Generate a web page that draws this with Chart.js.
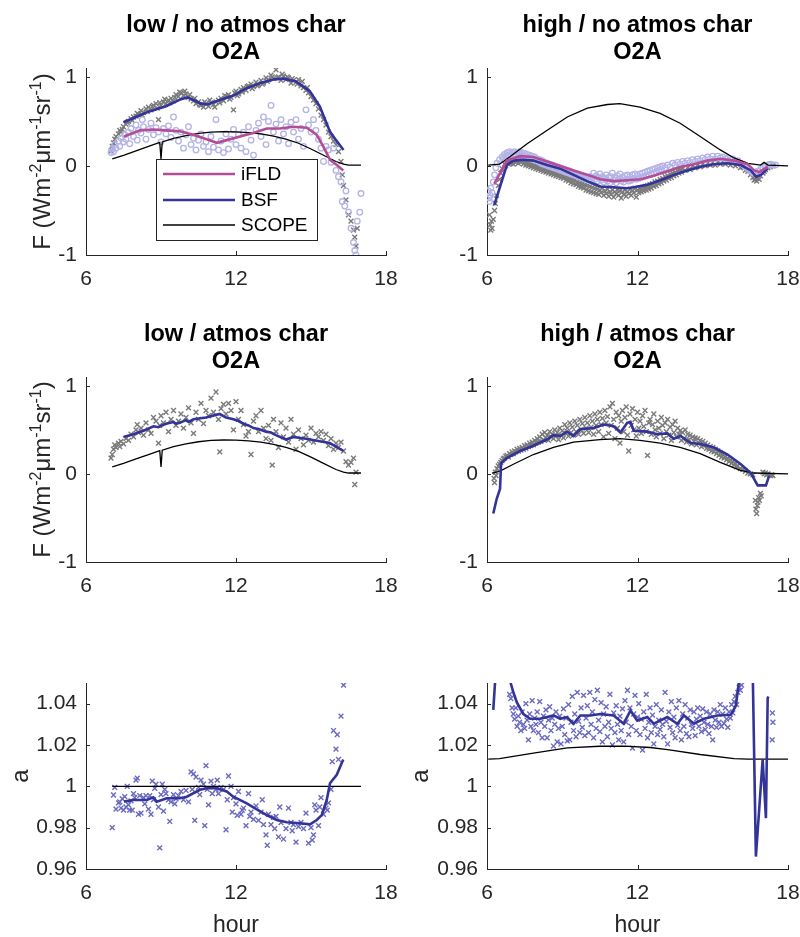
<!DOCTYPE html>
<html>
<head>
<meta charset="utf-8">
<title>O2A</title>
<script src="https://cdn.jsdelivr.net/npm/chart.js@4.4.0/dist/chart.umd.min.js"></script>
<style>
  body { margin: 0; background: #fff; }
  #fig { position: relative; width: 800px; height: 937px; }
  #fig canvas { position: absolute; }
</style>
</head>
<body>
<div id="fig"></div>
<script>
// ticks
const xTicks = [6, 12, 18];
const fTicks = [-1, 0, 1];
const aTicks = [0.96, 0.98, 1, 1.02, 1.04];

const titles = [
  ['low / no atmos char', 'O2A'],
  ['high / no atmos char', 'O2A'],
  ['low / atmos char', 'O2A'],
  ['high / atmos char', 'O2A']
];
const legendLabels = ['iFLD', 'BSF', 'SCOPE'];

// SCOPE model runs [hour, value]
const scopeLow = [[7.05,0.08],[7.5,0.12],[8.0,0.17],[8.5,0.22],[8.95,0.265],[9.0,0.08],[9.05,0.27],[9.5,0.31],[10.0,0.34],[10.5,0.365],[11.0,0.38],[11.5,0.385],[12.0,0.383],[12.5,0.375],[13.0,0.36],[13.5,0.335],[14.0,0.30],[14.5,0.255],[15.0,0.19],[15.5,0.12],[16.0,0.05],[16.3,0.02],[16.5,0.01],[17.0,0.01]];
const p2Scope = [[6.05,0.01],[6.5,0.02],[6.9,0.10],[7.6,0.25],[8.4,0.40],[9.2,0.55],[10.0,0.65],[10.8,0.69],[11.3,0.70],[12.1,0.66],[12.9,0.59],[13.7,0.48],[14.5,0.33],[15.3,0.18],[15.85,0.09],[16.4,0.03],[16.9,0.01],[17.05,0.04],[17.2,0.01],[18.0,0.0]];
const p4Scope = [[6.2,0.01],[6.5,0.03],[7.05,0.11],[7.85,0.22],[8.65,0.30],[9.45,0.36],[10.5,0.39],[11.3,0.40],[12.1,0.38],[12.9,0.35],[13.7,0.30],[14.5,0.23],[15.3,0.13],[16.1,0.04],[16.65,0.01],[18.0,0.0]];
const p5Scope = [[7.05,1.0],[17.0,1.0]];
const p6Scope = [[6.05,1.0132],[6.5,1.0134],[7.85,1.0161],[9.2,1.0186],[10.5,1.0194],[11.5,1.0195],[12.5,1.0188],[13.2,1.0178],[14.5,1.0154],[15.85,1.0134],[16.4,1.0132],[18.0,1.0132]];

// retrieval lines
const p1Bsf = [[7.5,0.49],[8.0,0.55],[8.5,0.61],[9.2,0.67],[9.8,0.75],[10.05,0.77],[10.3,0.74],[10.6,0.70],[10.85,0.69],[11.35,0.74],[11.9,0.79],[12.4,0.87],[12.95,0.93],[13.5,0.97],[13.9,0.98],[14.4,0.95],[14.95,0.84],[15.35,0.67],[15.75,0.39],[16.0,0.29],[16.3,0.18]];
const p1Ifld = [[7.52,0.33],[8.16,0.40],[8.69,0.41],[9.23,0.40],[9.76,0.39],[10.29,0.35],[10.83,0.30],[11.23,0.26],[11.63,0.29],[12.16,0.33],[12.69,0.37],[13.23,0.42],[13.76,0.42],[14.29,0.44],[14.83,0.43],[15.23,0.35],[15.49,0.22],[15.76,0.07],[16.03,0.01],[16.29,-0.05]];
const p2Bsf = [[6.29,-0.44],[6.79,0.01],[7.05,0.06],[7.45,0.07],[7.85,0.06],[8.39,0.01],[8.92,-0.03],[9.45,-0.10],[9.99,-0.17],[10.52,-0.23],[11.05,-0.24],[11.59,-0.25],[11.85,-0.24],[12.39,-0.21],[12.92,-0.16],[13.45,-0.10],[13.99,-0.05],[14.52,-0.01],[15.05,0.02],[15.59,0.03],[16.12,0.01],[16.52,-0.05],[16.72,-0.12],[16.92,-0.10],[17.19,-0.03]];
const p2Ifld = [[6.29,-0.20],[6.79,0.06],[7.32,0.11],[7.85,0.10],[8.39,0.05],[8.92,0.0],[9.45,-0.05],[9.99,-0.10],[10.52,-0.15],[11.05,-0.17],[11.59,-0.16],[12.12,-0.15],[12.65,-0.11],[13.19,-0.06],[13.72,-0.01],[14.25,0.02],[14.79,0.06],[15.32,0.08],[15.85,0.06],[16.39,0.02],[16.65,-0.05],[16.85,-0.07],[17.19,-0.01]];
const p3Bsf = [[7.5,0.42],[7.9,0.45],[8.3,0.49],[8.7,0.54],[8.9,0.53],[9.2,0.57],[9.5,0.59],[9.6,0.57],[9.75,0.58],[10.0,0.61],[10.1,0.59],[10.3,0.62],[10.8,0.64],[11.2,0.67],[11.35,0.68],[11.6,0.64],[11.9,0.62],[12.1,0.60],[12.3,0.57],[12.5,0.55],[12.7,0.52],[12.9,0.51],[13.2,0.48],[13.4,0.47],[13.6,0.44],[14.0,0.39],[14.3,0.42],[14.5,0.41],[14.8,0.40],[15.35,0.37],[15.75,0.35],[16.0,0.31],[16.3,0.26]];
const p4Bsf = [[6.25,-0.45],[6.39,-0.28],[6.52,-0.17],[6.56,0.12],[6.79,0.18],[7.32,0.26],[7.85,0.32],[8.39,0.39],[8.65,0.44],[8.92,0.43],[9.19,0.48],[9.45,0.43],[9.72,0.51],[10.25,0.52],[10.65,0.56],[11.05,0.54],[11.32,0.47],[11.59,0.58],[11.72,0.59],[11.85,0.49],[12.39,0.48],[12.79,0.45],[13.19,0.46],[13.45,0.40],[13.72,0.43],[14.12,0.35],[14.52,0.34],[15.05,0.30],[15.59,0.22],[16.12,0.11],[16.52,0.01],[16.79,-0.13],[17.12,-0.13],[17.25,-0.02]];
const p5Bsf = [[7.52,0.9926],[7.89,0.9934],[8.43,0.9934],[8.69,0.9947],[8.83,0.9926],[9.23,0.9942],[9.76,0.9942],[10.03,0.995],[10.56,0.9983],[10.83,0.9991],[11.23,0.9991],[11.63,0.9975],[11.89,0.995],[12.43,0.9918],[12.83,0.9889],[13.23,0.9861],[13.63,0.9837],[14.03,0.9826],[14.56,0.9821],[14.96,0.9816],[15.23,0.9837],[15.43,0.9861],[15.63,0.9934],[15.76,1.0015],[16.03,1.0056],[16.29,1.013]];
const p6Bsf = [[6.25,1.037],[6.33,1.052],[6.5,1.12],[6.8,1.12],[6.92,1.051],[7.05,1.0455],[7.19,1.0406],[7.45,1.035],[7.72,1.0327],[8.12,1.0327],[8.65,1.0343],[8.92,1.0327],[9.19,1.0335],[9.45,1.0303],[9.72,1.0343],[10.12,1.0343],[10.52,1.035],[11.05,1.0343],[11.45,1.0303],[11.72,1.0367],[11.99,1.0318],[12.39,1.0335],[12.65,1.0303],[13.19,1.0335],[13.59,1.0303],[13.85,1.0343],[14.25,1.0303],[14.65,1.0327],[15.19,1.0343],[15.72,1.0346],[15.92,1.039],[16.05,1.051],[16.2,1.12],[16.45,1.12],[16.6,1.051],[16.72,0.966],[16.99,1.013],[17.12,0.9846],[17.19,1.0427],[17.22,1.0435]];

// measurements
const p1Gray = [[7.0,0.17],[7.05,0.22],[7.1,0.26],[7.15,0.30],[7.2,0.33],[7.3,0.36],[7.35,0.40],[7.4,0.38],[7.45,0.41],[7.5,0.44],[7.6,0.47],[7.65,0.49],[7.7,0.50],[7.8,0.53],[7.85,0.51],[7.9,0.55],[8.0,0.56],[8.05,0.59],[8.1,0.58],[8.2,0.62],[8.25,0.57],[8.3,0.60],[8.4,0.64],[8.45,0.61],[8.5,0.66],[8.6,0.63],[8.65,0.67],[8.7,0.68],[8.8,0.70],[8.85,0.65],[8.9,0.52],[8.95,0.71],[9.0,0.68],[9.1,0.72],[9.15,0.75],[9.2,0.70],[9.3,0.74],[9.35,0.71],[9.4,0.76],[9.5,0.73],[9.55,0.77],[9.6,0.80],[9.7,0.78],[9.75,0.83],[9.8,0.82],[9.9,0.79],[9.95,0.84],[10.0,0.81],[10.1,0.77],[10.15,0.80],[10.2,0.75],[10.3,0.73],[10.35,0.76],[10.4,0.70],[10.5,0.72],[10.55,0.69],[10.6,0.68],[10.7,0.66],[10.75,0.72],[10.8,0.70],[10.9,0.67],[10.95,0.74],[11.0,0.71],[11.1,0.69],[11.15,0.66],[11.2,0.72],[11.3,0.74],[11.35,0.71],[11.4,0.76],[11.5,0.73],[11.55,0.79],[11.6,0.78],[11.7,0.80],[11.75,0.75],[11.8,0.77],[11.9,0.63],[11.95,0.82],[12.0,0.84],[12.05,0.79],[12.1,0.81],[12.2,0.86],[12.25,0.83],[12.3,0.88],[12.4,0.85],[12.45,0.89],[12.5,0.90],[12.6,0.92],[12.65,0.87],[12.7,0.89],[12.8,0.94],[12.85,0.90],[12.9,0.91],[13.0,0.96],[13.05,0.92],[13.1,0.93],[13.2,0.99],[13.25,0.95],[13.3,0.97],[13.4,1.02],[13.45,1.00],[13.5,0.98],[13.6,1.08],[13.65,0.99],[13.7,1.00],[13.8,0.96],[13.85,1.03],[13.9,1.01],[14.0,0.97],[14.05,1.00],[14.1,0.99],[14.2,0.93],[14.25,0.98],[14.3,0.96],[14.4,0.94],[14.45,0.92],[14.5,0.97],[14.6,0.90],[14.65,0.95],[14.7,0.88],[14.8,0.85],[14.85,0.88],[14.9,0.82],[15.0,0.78],[15.1,0.74],[15.2,0.70],[15.3,0.64],[15.4,0.57],[15.5,0.52],[15.6,0.46],[15.7,0.38],[15.8,0.33],[15.9,0.28],[16.0,0.24],[16.1,0.16],[16.2,0.05],[16.25,-0.10],[16.3,-0.22],[16.4,-0.38],[16.5,-0.55],[16.6,-0.62],[16.7,-0.72],[16.75,-0.80],[16.8,-0.90],[16.85,-0.70]];
const p1Circ = [[7.0,0.15],[7.05,0.19],[7.1,0.16],[7.15,0.24],[7.2,0.20],[7.3,0.28],[7.35,0.22],[7.4,0.31],[7.5,0.27],[7.55,0.35],[7.6,0.30],[7.7,0.38],[7.75,0.25],[7.8,0.42],[7.9,0.33],[8.0,0.46],[8.05,0.29],[8.1,0.40],[8.2,0.37],[8.25,0.52],[8.3,0.44],[8.4,0.30],[8.5,0.41],[8.6,0.48],[8.7,0.35],[8.8,0.43],[8.9,0.38],[9.0,0.27],[9.1,0.42],[9.2,0.36],[9.3,0.45],[9.4,0.32],[9.5,0.55],[9.6,0.40],[9.7,0.28],[9.8,0.38],[9.9,0.20],[10.0,0.35],[10.1,0.44],[10.2,0.24],[10.3,0.31],[10.4,0.18],[10.5,0.29],[10.6,0.36],[10.7,0.22],[10.8,0.27],[10.9,0.16],[11.0,0.33],[11.1,0.21],[11.2,0.52],[11.3,0.18],[11.4,0.28],[11.5,0.15],[11.6,0.36],[11.7,0.19],[11.8,0.30],[11.9,0.41],[12.0,0.24],[12.1,0.35],[12.2,0.20],[12.3,0.38],[12.4,0.16],[12.5,0.44],[12.6,0.29],[12.7,0.12],[12.8,0.40],[12.9,0.48],[13.0,0.33],[13.1,0.55],[13.2,0.24],[13.3,0.50],[13.4,0.68],[13.5,0.38],[13.6,0.47],[13.7,0.28],[13.8,0.52],[13.9,0.36],[14.0,0.44],[14.1,0.25],[14.2,0.49],[14.3,0.38],[14.4,0.52],[14.5,0.30],[14.6,0.42],[14.7,0.22],[14.8,0.63],[14.9,0.46],[15.0,0.38],[15.1,0.52],[15.2,0.40],[15.3,0.30],[15.4,0.20],[15.5,0.05],[15.6,0.22],[15.7,0.18],[15.8,0.04],[15.9,0.20],[16.0,-0.05],[16.1,-0.12],[16.2,-0.18],[16.25,-0.40],[16.35,-0.45],[16.4,-0.28],[16.5,-0.52],[16.6,-0.70],[16.7,-0.86],[16.75,-0.95],[16.8,-1.0],[16.85,-0.62],[16.95,-0.52],[17.0,-0.31]];
const p2Gray = [[6.1,-0.55],[6.12,-0.66],[6.15,-0.72],[6.18,-0.62],[6.2,-0.70],[6.25,-0.60],[6.3,-0.50],[6.33,-0.42],[6.38,-0.33],[6.45,-0.22],[6.5,-0.15],[6.55,-0.08],[6.6,-0.03],[6.7,0.02],[6.75,0.00],[6.8,0.04],[6.85,0.02],[6.9,0.06],[6.95,0.03],[7.0,0.05],[7.05,0.02],[7.1,0.07],[7.15,0.04],[7.2,0.06],[7.25,0.03],[7.3,0.07],[7.35,0.04],[7.4,0.06],[7.45,0.02],[7.5,0.05],[7.55,0.01],[7.6,0.04],[7.65,0.00],[7.7,0.03],[7.75,-0.01],[7.8,0.02],[7.85,-0.02],[7.9,0.01],[7.95,-0.03],[8.0,0.00],[8.05,-0.04],[8.1,-0.01],[8.15,-0.05],[8.2,-0.02],[8.25,-0.06],[8.3,-0.03],[8.35,-0.07],[8.4,-0.04],[8.45,-0.08],[8.5,-0.05],[8.55,-0.09],[8.6,-0.06],[8.65,-0.10],[8.7,-0.07],[8.75,-0.11],[8.8,-0.08],[8.85,-0.12],[8.9,-0.09],[8.95,-0.13],[9.0,-0.10],[9.05,-0.14],[9.1,-0.11],[9.15,-0.16],[9.2,-0.12],[9.25,-0.17],[9.3,-0.14],[9.35,-0.19],[9.4,-0.15],[9.45,-0.20],[9.5,-0.16],[9.55,-0.21],[9.6,-0.18],[9.65,-0.23],[9.7,-0.19],[9.75,-0.24],[9.8,-0.20],[9.85,-0.25],[9.9,-0.21],[9.95,-0.27],[10.0,-0.22],[10.05,-0.28],[10.1,-0.23],[10.15,-0.29],[10.2,-0.24],[10.25,-0.30],[10.3,-0.25],[10.35,-0.31],[10.4,-0.26],[10.45,-0.32],[10.5,-0.27],[10.55,-0.30],[10.6,-0.25],[10.65,-0.33],[10.7,-0.28],[10.75,-0.31],[10.8,-0.26],[10.85,-0.34],[10.9,-0.29],[10.95,-0.32],[11.0,-0.27],[11.05,-0.35],[11.1,-0.29],[11.15,-0.31],[11.2,-0.27],[11.25,-0.33],[11.3,-0.28],[11.35,-0.36],[11.4,-0.29],[11.45,-0.32],[11.5,-0.27],[11.55,-0.34],[11.6,-0.29],[11.65,-0.31],[11.7,-0.26],[11.75,-0.33],[11.8,-0.28],[11.85,-0.30],[11.9,-0.25],[11.95,-0.35],[12.0,-0.27],[12.05,-0.30],[12.1,-0.25],[12.15,-0.29],[12.2,-0.24],[12.25,-0.28],[12.3,-0.23],[12.35,-0.27],[12.4,-0.22],[12.45,-0.26],[12.5,-0.21],[12.55,-0.25],[12.6,-0.20],[12.65,-0.23],[12.7,-0.18],[12.75,-0.22],[12.8,-0.17],[12.85,-0.20],[12.9,-0.15],[12.95,-0.19],[13.0,-0.14],[13.05,-0.17],[13.1,-0.12],[13.15,-0.16],[13.2,-0.11],[13.25,-0.14],[13.3,-0.09],[13.35,-0.13],[13.4,-0.08],[13.45,-0.11],[13.5,-0.07],[13.55,-0.10],[13.6,-0.05],[13.65,-0.08],[13.7,-0.04],[13.75,-0.07],[13.8,-0.03],[13.9,-0.05],[14.0,-0.02],[14.1,-0.04],[14.2,0.00],[14.3,-0.02],[14.4,0.01],[14.5,-0.01],[14.6,0.02],[14.7,0.00],[14.8,0.03],[14.9,0.01],[15.0,0.04],[15.1,0.01],[15.2,0.04],[15.3,0.02],[15.4,0.05],[15.5,0.02],[15.6,0.04],[15.7,0.01],[15.8,0.03],[15.9,0.00],[16.0,0.02],[16.1,-0.02],[16.2,-0.01],[16.3,-0.05],[16.4,-0.06],[16.5,-0.10],[16.6,-0.13],[16.65,-0.16],[16.7,-0.15],[16.75,-0.17],[16.8,-0.14],[16.85,-0.15],[16.9,-0.11],[17.0,-0.08],[17.05,-0.06],[17.1,-0.04],[17.2,-0.02],[17.3,-0.01],[17.4,0.00]];
const p2Circ = [[6.05,-0.28],[6.08,-0.36],[6.1,-0.40],[6.13,-0.33],[6.15,-0.25],[6.2,-0.30],[6.25,-0.18],[6.3,-0.10],[6.35,-0.02],[6.4,0.03],[6.5,0.07],[6.6,0.10],[6.65,0.08],[6.7,0.13],[6.75,0.11],[6.8,0.15],[6.85,0.12],[6.9,0.16],[6.95,0.13],[7.0,0.15],[7.05,0.12],[7.1,0.16],[7.15,0.13],[7.2,0.15],[7.25,0.12],[7.3,0.16],[7.35,0.13],[7.4,0.15],[7.45,0.11],[7.5,0.14],[7.55,0.10],[7.6,0.13],[7.65,0.10],[7.7,0.12],[7.75,0.08],[7.8,0.11],[7.85,0.07],[7.9,0.10],[7.95,0.06],[8.0,0.08],[8.05,0.05],[8.1,0.07],[8.15,0.03],[8.2,0.06],[8.25,0.02],[8.3,0.04],[8.35,0.01],[8.4,0.03],[8.45,0.00],[8.5,0.02],[8.55,-0.01],[8.6,0.01],[8.65,-0.02],[8.7,0.00],[8.75,-0.03],[8.8,-0.01],[8.85,-0.04],[8.9,-0.02],[8.95,-0.05],[9.0,-0.03],[9.05,-0.06],[9.1,-0.04],[9.15,-0.07],[9.2,-0.05],[9.25,-0.08],[9.3,-0.06],[9.35,-0.09],[9.4,-0.07],[9.45,-0.10],[9.5,-0.08],[9.55,-0.11],[9.6,-0.09],[9.65,-0.12],[9.7,-0.10],[9.75,-0.13],[9.8,-0.11],[9.85,-0.14],[9.9,-0.12],[9.95,-0.15],[10.0,-0.13],[10.05,-0.16],[10.1,-0.12],[10.15,-0.17],[10.2,-0.13],[10.25,-0.08],[10.3,-0.15],[10.35,-0.11],[10.4,-0.17],[10.45,-0.13],[10.5,-0.09],[10.55,-0.16],[10.6,-0.12],[10.65,-0.18],[10.7,-0.14],[10.75,-0.10],[10.8,-0.17],[10.85,-0.13],[10.9,-0.19],[10.95,-0.12],[11.0,-0.08],[11.05,-0.16],[11.1,-0.13],[11.15,-0.19],[11.2,-0.11],[11.25,-0.15],[11.3,-0.09],[11.35,-0.17],[11.4,-0.13],[11.45,-0.18],[11.5,-0.11],[11.55,-0.15],[11.6,-0.10],[11.65,-0.17],[11.7,-0.12],[11.75,-0.16],[11.8,-0.10],[11.85,-0.14],[11.9,-0.09],[11.95,-0.15],[12.0,-0.11],[12.05,-0.14],[12.1,-0.09],[12.15,-0.13],[12.2,-0.08],[12.25,-0.12],[12.3,-0.07],[12.35,-0.11],[12.4,-0.06],[12.45,-0.10],[12.5,-0.05],[12.55,-0.09],[12.6,-0.04],[12.65,-0.08],[12.7,-0.03],[12.75,-0.07],[12.8,-0.02],[12.85,-0.05],[12.9,-0.01],[12.95,-0.04],[13.0,0.00],[13.1,-0.02],[13.2,0.01],[13.3,-0.01],[13.4,0.03],[13.5,0.01],[13.6,0.04],[13.7,0.02],[13.8,0.05],[13.9,0.03],[14.0,0.06],[14.1,0.04],[14.2,0.07],[14.3,0.05],[14.4,0.08],[14.5,0.06],[14.6,0.09],[14.7,0.07],[14.8,0.10],[14.9,0.08],[15.0,0.11],[15.1,0.08],[15.2,0.11],[15.3,0.09],[15.4,0.10],[15.5,0.08],[15.6,0.09],[15.7,0.07],[15.8,0.08],[15.9,0.05],[16.0,0.06],[16.1,0.03],[16.2,0.02],[16.3,-0.01],[16.4,-0.03],[16.5,-0.06],[16.6,-0.08],[16.7,-0.07],[16.8,-0.06],[16.9,-0.04],[17.0,-0.02],[17.1,0.00],[17.2,0.01],[17.3,0.02],[17.4,0.01],[17.5,0.01]];
const p3Gray = [[7.0,0.18],[7.05,0.22],[7.1,0.28],[7.15,0.33],[7.2,0.30],[7.3,0.35],[7.35,0.31],[7.4,0.37],[7.5,0.34],[7.6,0.40],[7.7,0.38],[7.8,0.45],[7.9,0.42],[8.0,0.50],[8.05,0.56],[8.1,0.47],[8.2,0.52],[8.3,0.44],[8.4,0.58],[8.5,0.50],[8.6,0.46],[8.7,0.64],[8.8,0.60],[8.9,0.35],[8.95,0.55],[9.0,0.66],[9.1,0.58],[9.2,0.70],[9.3,0.48],[9.4,0.62],[9.5,0.72],[9.6,0.55],[9.7,0.60],[9.8,0.68],[9.9,0.52],[10.0,0.64],[10.1,0.75],[10.2,0.58],[10.3,0.46],[10.4,0.70],[10.5,0.62],[10.6,0.80],[10.7,0.57],[10.8,0.72],[10.9,0.66],[11.0,0.86],[11.1,0.70],[11.2,0.93],[11.3,0.62],[11.35,0.25],[11.4,0.74],[11.5,0.79],[11.6,0.68],[11.7,0.80],[11.8,0.72],[11.9,0.50],[12.0,0.82],[12.1,0.62],[12.2,0.72],[12.3,0.56],[12.4,0.43],[12.5,0.48],[12.6,0.22],[12.7,0.60],[12.8,0.66],[12.9,0.48],[13.0,0.72],[13.1,0.52],[13.2,0.40],[13.3,0.55],[13.4,0.38],[13.45,0.10],[13.5,0.62],[13.6,0.48],[13.7,0.30],[13.8,0.58],[13.9,0.42],[14.0,0.52],[14.1,0.36],[14.2,0.62],[14.3,0.45],[14.4,0.28],[14.5,0.50],[14.6,0.40],[14.7,0.33],[14.8,0.44],[14.9,0.38],[15.0,0.52],[15.1,0.36],[15.2,0.46],[15.3,0.42],[15.4,0.48],[15.5,0.38],[15.6,0.45],[15.7,0.32],[15.8,0.40],[15.9,0.28],[16.0,0.35],[16.1,0.30],[16.2,0.36],[16.3,0.26],[16.4,0.14],[16.5,0.10],[16.6,0.13],[16.7,0.18],[16.75,-0.12],[16.8,0.02]];
const p4Gray = [[6.28,-0.05],[6.3,-0.10],[6.33,0.02],[6.36,-0.02],[6.4,0.06],[6.45,0.09],[6.5,0.11],[6.55,0.13],[6.6,0.15],[6.65,0.17],[6.7,0.18],[6.75,0.20],[6.8,0.21],[6.85,0.19],[6.9,0.23],[6.95,0.22],[7.0,0.25],[7.05,0.23],[7.1,0.26],[7.15,0.25],[7.2,0.28],[7.25,0.26],[7.3,0.29],[7.35,0.27],[7.4,0.30],[7.45,0.28],[7.5,0.32],[7.55,0.29],[7.6,0.33],[7.65,0.31],[7.7,0.35],[7.75,0.32],[7.8,0.36],[7.85,0.33],[7.9,0.38],[7.95,0.35],[8.0,0.40],[8.05,0.36],[8.1,0.42],[8.15,0.37],[8.2,0.45],[8.25,0.39],[8.3,0.47],[8.35,0.41],[8.4,0.44],[8.45,0.38],[8.5,0.48],[8.55,0.42],[8.6,0.45],[8.65,0.40],[8.7,0.50],[8.75,0.43],[8.8,0.47],[8.85,0.39],[8.9,0.52],[8.95,0.44],[9.0,0.49],[9.05,0.41],[9.1,0.56],[9.15,0.46],[9.2,0.52],[9.25,0.43],[9.3,0.58],[9.35,0.47],[9.4,0.53],[9.45,0.44],[9.5,0.60],[9.55,0.48],[9.6,0.55],[9.65,0.45],[9.7,0.62],[9.75,0.50],[9.8,0.57],[9.85,0.46],[9.9,0.64],[9.95,0.52],[10.0,0.58],[10.05,0.47],[10.1,0.66],[10.15,0.53],[10.2,0.60],[10.25,0.45],[10.3,0.68],[10.35,0.55],[10.4,0.62],[10.45,0.48],[10.5,0.70],[10.55,0.56],[10.6,0.63],[10.65,0.42],[10.7,0.72],[10.75,0.58],[10.8,0.65],[10.85,0.46],[10.9,0.76],[10.95,0.55],[11.0,0.80],[11.05,0.62],[11.1,0.40],[11.15,0.70],[11.2,0.52],[11.25,0.66],[11.3,0.35],[11.35,0.60],[11.4,0.72],[11.45,0.48],[11.5,0.64],[11.55,0.76],[11.6,0.44],[11.65,0.26],[11.7,0.68],[11.75,0.55],[11.8,0.74],[11.85,0.50],[11.9,0.62],[11.95,0.43],[12.0,0.70],[12.05,0.52],[12.1,0.60],[12.15,0.46],[12.2,0.66],[12.25,0.54],[12.3,0.72],[12.35,0.48],[12.4,0.21],[12.45,0.58],[12.5,0.62],[12.55,0.45],[12.6,0.56],[12.65,0.68],[12.7,0.50],[12.75,0.42],[12.8,0.60],[12.85,0.52],[12.9,0.46],[12.95,0.64],[13.0,0.55],[13.05,0.40],[13.1,0.58],[13.15,0.48],[13.2,0.62],[13.25,0.44],[13.3,0.53],[13.35,0.38],[13.4,0.56],[13.45,0.47],[13.5,0.60],[13.55,0.42],[13.6,0.52],[13.65,0.45],[13.7,0.49],[13.75,0.38],[13.8,0.47],[13.85,0.40],[13.9,0.50],[13.95,0.36],[14.0,0.45],[14.05,0.39],[14.1,0.44],[14.15,0.34],[14.2,0.42],[14.25,0.37],[14.3,0.41],[14.35,0.33],[14.4,0.40],[14.45,0.35],[14.5,0.38],[14.55,0.31],[14.6,0.37],[14.65,0.32],[14.7,0.35],[14.75,0.29],[14.8,0.33],[14.85,0.28],[14.9,0.31],[14.95,0.26],[15.0,0.30],[15.05,0.25],[15.1,0.28],[15.15,0.23],[15.2,0.26],[15.25,0.21],[15.3,0.24],[15.35,0.19],[15.4,0.22],[15.45,0.18],[15.5,0.20],[15.55,0.16],[15.6,0.18],[15.65,0.14],[15.7,0.16],[15.75,0.12],[15.8,0.14],[15.85,0.10],[15.9,0.12],[15.95,0.08],[16.0,0.09],[16.1,0.06],[16.2,0.05],[16.3,0.03],[16.4,0.01],[16.5,0.00],[16.6,-0.01],[16.7,-0.30],[16.72,-0.40],[16.75,-0.45],[16.78,-0.36],[16.8,-0.32],[16.83,-0.27],[16.86,-0.30],[16.9,-0.22],[16.93,-0.25],[17.0,0.02],[17.05,0.00],[17.1,0.01],[17.15,-0.01],[17.2,0.00],[17.3,-0.02],[17.35,-0.01],[17.4,-0.02]];
const p5Pts = [[7.05,0.980],[7.1,0.9958],[7.15,0.9995],[7.2,0.989],[7.3,0.992],[7.35,0.9925],[7.4,0.9895],[7.45,0.994],[7.5,0.9885],[7.55,0.995],[7.6,0.990],[7.65,1.0],[7.7,0.991],[7.75,0.9885],[7.8,0.993],[7.85,0.9885],[7.9,0.9965],[7.95,0.9945],[8.0,1.003],[8.05,1.004],[8.1,0.9865],[8.15,0.9955],[8.2,0.987],[8.3,0.9945],[8.35,0.9915],[8.4,0.9955],[8.5,0.989],[8.55,0.9955],[8.6,0.9865],[8.65,1.0025],[8.7,0.9935],[8.75,0.999],[8.8,1.001],[8.9,0.990],[8.95,0.9702],[9.0,0.996],[9.05,1.001],[9.1,0.988],[9.15,0.9985],[9.2,0.9965],[9.3,0.9935],[9.35,0.983],[9.4,0.9925],[9.5,0.996],[9.55,0.9915],[9.6,0.994],[9.7,0.9955],[9.8,0.9975],[9.9,0.9935],[10.0,0.998],[10.1,0.9925],[10.2,1.007],[10.25,0.9985],[10.3,1.006],[10.35,0.9835],[10.4,1.0045],[10.5,0.9995],[10.55,0.996],[10.6,1.003],[10.7,1.001],[10.75,0.981],[10.8,1.010],[10.85,0.9985],[10.9,0.991],[11.0,1.0025],[11.05,0.9965],[11.1,1.0],[11.2,0.9985],[11.25,1.003],[11.3,0.9965],[11.4,0.9995],[11.5,0.9985],[11.6,0.979],[11.65,0.9935],[11.7,1.005],[11.8,1.0],[11.85,0.9875],[11.9,0.9945],[12.0,0.9915],[12.05,0.986],[12.1,0.9975],[12.2,0.9865],[12.25,0.9885],[12.3,0.9895],[12.4,0.981],[12.5,0.9965],[12.55,0.9855],[12.6,0.9875],[12.7,0.984],[12.8,0.9905],[12.9,0.9835],[13.0,0.9875],[13.05,0.9935],[13.1,0.9815],[13.2,0.9765],[13.25,0.9715],[13.3,0.9865],[13.4,0.9815],[13.5,0.985],[13.55,0.9795],[13.6,0.9855],[13.7,0.9755],[13.75,0.99],[13.8,0.9825],[13.9,0.9745],[14.0,0.9795],[14.1,0.9895],[14.2,0.9825],[14.25,0.9785],[14.3,0.9815],[14.4,0.973],[14.5,0.9805],[14.6,0.9825],[14.7,0.9795],[14.8,0.987],[14.9,0.9725],[15.0,0.980],[15.05,0.974],[15.1,0.9765],[15.15,0.991],[15.2,0.9885],[15.3,0.981],[15.35,0.990],[15.4,0.9945],[15.5,0.9865],[15.6,0.9895],[15.65,0.9885],[15.7,0.992],[15.8,0.9985],[15.85,1.012],[15.9,1.027],[16.0,1.018],[16.05,1.025],[16.1,1.013],[16.2,1.034],[16.3,1.049]];
const p6Pts = [[6.9,1.0445],[6.95,1.0425],[7.0,1.038],[7.05,1.035],[7.1,1.0325],[7.15,1.038],[7.2,1.029],[7.25,1.034],[7.3,1.031],[7.35,1.027],[7.4,1.036],[7.45,1.030],[7.5,1.028],[7.55,1.040],[7.6,1.032],[7.65,1.0225],[7.7,1.035],[7.75,1.029],[7.8,1.0415],[7.85,1.027],[7.9,1.033],[7.95,1.030],[8.0,1.036],[8.05,1.026],[8.1,1.041],[8.15,1.031],[8.2,1.0235],[8.25,1.034],[8.3,1.029],[8.35,1.037],[8.4,1.0235],[8.45,1.032],[8.5,1.0385],[8.55,1.027],[8.6,1.033],[8.65,1.0195],[8.7,1.030],[8.75,1.036],[8.8,1.0215],[8.85,1.028],[8.9,1.034],[8.95,1.0205],[9.0,1.029],[9.05,1.0375],[9.1,1.025],[9.15,1.033],[9.2,1.022],[9.25,1.0395],[9.3,1.0225],[9.35,1.031],[9.4,1.0435],[9.45,1.027],[9.5,1.035],[9.55,1.024],[9.6,1.0455],[9.65,1.0315],[9.7,1.026],[9.75,1.038],[9.8,1.0285],[9.85,1.044],[9.9,1.0245],[9.95,1.033],[10.0,1.039],[10.05,1.026],[10.1,1.0455],[10.15,1.030],[10.2,1.036],[10.25,1.0235],[10.3,1.042],[10.35,1.028],[10.4,1.0465],[10.45,1.032],[10.5,1.0265],[10.55,1.0405],[10.6,1.0215],[10.65,1.035],[10.7,1.029],[10.75,1.0385],[10.8,1.024],[10.85,1.031],[10.9,1.0445],[10.95,1.028],[11.0,1.020],[11.05,1.0355],[11.1,1.026],[11.15,1.039],[11.2,1.030],[11.25,1.0225],[11.3,1.034],[11.35,1.027],[11.4,1.0375],[11.45,1.0215],[11.5,1.0415],[11.55,1.031],[11.6,1.0465],[11.65,1.025],[11.7,1.038],[11.75,1.029],[11.8,1.0185],[11.85,1.035],[11.9,1.044],[11.95,1.027],[12.0,1.0335],[12.05,1.040],[12.1,1.025],[12.15,1.0325],[12.2,1.0175],[12.25,1.036],[12.3,1.028],[12.35,1.0445],[12.4,1.0235],[12.45,1.031],[12.5,1.038],[12.55,1.026],[12.6,1.0345],[12.65,1.0205],[12.7,1.029],[12.75,1.0395],[12.8,1.025],[12.85,1.032],[12.9,1.0275],[12.95,1.037],[13.0,1.030],[13.05,1.024],[13.1,1.0455],[13.15,1.0315],[13.2,1.0205],[13.25,1.036],[13.3,1.0285],[13.35,1.041],[13.4,1.026],[13.45,1.0335],[13.5,1.0235],[13.55,1.038],[13.6,1.0295],[13.65,1.0415],[13.7,1.027],[13.75,1.0225],[13.8,1.035],[13.85,1.029],[13.9,1.0395],[13.95,1.0255],[14.0,1.033],[14.05,1.024],[14.1,1.037],[14.15,1.030],[14.2,1.028],[14.25,1.036],[14.3,1.0245],[14.35,1.0325],[14.4,1.038],[14.45,1.029],[14.5,1.034],[14.55,1.0265],[14.6,1.0375],[14.65,1.031],[14.7,1.0275],[14.75,1.036],[14.8,1.030],[14.85,1.0255],[14.9,1.035],[14.95,1.029],[15.0,1.0225],[15.05,1.037],[15.1,1.032],[15.15,1.0285],[15.2,1.036],[15.25,1.031],[15.3,1.0395],[15.35,1.029],[15.4,1.035],[15.45,1.0305],[15.5,1.038],[15.55,1.0325],[15.6,1.0285],[15.65,1.036],[15.7,1.033],[15.75,1.0395],[15.8,1.0355],[15.85,1.041],[15.9,1.0435],[15.95,1.0395],[16.0,1.0455],[16.05,1.048],[16.1,1.0465],[16.15,1.049],[17.38,1.0355],[17.4,1.031],[17.37,1.0225]];

const FONT = '"Liberation Sans", Arial, Helvetica, sans-serif';
const AXIS = '#262626';
const C_IFLD = '#b34d99';
const C_BSF = '#333399';
const C_CIRC = '#b3b3e6';
const C_GRAY = '#7a7a7a';
const C_A = '#6a6abf';

// y label pieces: [text, superscript?]
const fLabel = [['F (Wm'], ['-2', 1], ['\u03bcm'], ['-1', 1], ['sr'], ['-1', 1], [')']];
const aLabel = [['a']];

const pts = arr => arr.map(([x, y]) => ({ x, y }));

function line(arr, color, w) {
  return { data: pts(arr), showLine: true, borderColor: color, borderWidth: w, pointRadius: 0, tension: 0, fill: false, clip: 0 };
}
function cross(arr, color) {
  return { data: pts(arr), showLine: false, pointStyle: 'crossRot', pointRadius: 3.4, borderColor: color, borderWidth: 1.4 };
}
function circ(arr, color) {
  return { data: pts(arr), showLine: false, pointStyle: 'circle', pointRadius: 2.8, borderColor: color, backgroundColor: 'rgba(0,0,0,0)', borderWidth: 1.3 };
}

// area = [left, top, right, bottom] of the axes box inside each canvas
const panels = [
  { left: 0, top: 0, h: 300, area: [86, 68, 386, 255], title: titles[0], kind: 'F', ylab: fLabel, ylabX: 50, legend: true,
    sets: [line(p1Ifld, C_IFLD, 2.6), line(p1Bsf, C_BSF, 2.6), line(scopeLow, '#000', 1.3), circ(p1Circ, C_CIRC), cross(p1Gray, C_GRAY)] },
  { left: 400, top: 0, h: 300, area: [87, 68, 388, 255], title: titles[1], kind: 'F',
    sets: [line(p2Ifld, C_IFLD, 2.6), line(p2Bsf, C_BSF, 2.6), line(p2Scope, '#000', 1.3), circ(p2Circ, C_CIRC), cross(p2Gray, C_GRAY)] },
  { left: 0, top: 300, h: 300, area: [86, 77, 386, 262], title: titles[2], kind: 'F', ylab: fLabel, ylabX: 50,
    sets: [line(p3Bsf, C_BSF, 2.6), line(scopeLow, '#000', 1.3), cross(p3Gray, C_GRAY)] },
  { left: 400, top: 300, h: 300, area: [87, 77, 388, 262], title: titles[3], kind: 'F',
    sets: [line(p4Bsf, C_BSF, 2.6), line(p4Scope, '#000', 1.3), cross(p4Gray, C_GRAY)] },
  { left: 0, top: 620, h: 317, area: [86, 63, 386, 249], kind: 'a', ylab: aLabel, ylabX: 28, hour: true,
    sets: [line(p5Bsf, C_BSF, 2.6), line(p5Scope, '#000', 1.3), cross(p5Pts, C_A)] },
  { left: 400, top: 620, h: 317, area: [87, 63, 388, 249], kind: 'a', ylab: aLabel, ylabX: 28, hour: true,
    sets: [line(p6Bsf, C_BSF, 2.6), line(p6Scope, '#000', 1.3), cross(p6Pts, C_A)] }
];

// MATLAB look: inward ticks, bold two-line title, TeX-like y label, legend box
function makeDecor(p) {
  return {
    id: 'decor',
    afterDraw(chart) {
      const ctx = chart.ctx;
      const a = chart.chartArea;
      const xs = chart.scales.x, ys = chart.scales.y;
      ctx.save();
      ctx.strokeStyle = AXIS;
      ctx.lineWidth = 1;
      ctx.beginPath();
      xs.ticks.forEach(t => {
        const px = Math.round(xs.getPixelForValue(t.value)) + 0.5;
        ctx.moveTo(px, a.bottom); ctx.lineTo(px, a.bottom - 4);
      });
      ys.ticks.forEach(t => {
        const py = Math.round(ys.getPixelForValue(t.value)) + 0.5;
        ctx.moveTo(a.left, py); ctx.lineTo(a.left + 4, py);
      });
      ctx.stroke();

      if (p.title) {
        ctx.fillStyle = '#000';
        ctx.font = 'bold 23.5px ' + FONT;
        ctx.textAlign = 'center';
        ctx.textBaseline = 'alphabetic';
        const cx = (a.left + a.right) / 2;
        ctx.fillText(p.title[0], cx, a.top - 36);
        ctx.fillText(p.title[1], cx, a.top - 9);
      }

      if (p.ylab) {
        const main = '24px ' + FONT, sup = '16px ' + FONT;
        ctx.save();
        ctx.translate(p.ylabX, (a.top + a.bottom) / 2);
        ctx.rotate(-Math.PI / 2);
        ctx.fillStyle = AXIS;
        ctx.textAlign = 'left';
        ctx.textBaseline = 'alphabetic';
        let total = 0;
        const widths = p.ylab.map(([t, s]) => {
          ctx.font = s ? sup : main;
          const w = ctx.measureText(t).width;
          total += w;
          return w;
        });
        let x = -total / 2;
        p.ylab.forEach(([t, s], i) => {
          ctx.font = s ? sup : main;
          ctx.fillText(t, x, s ? -9 : 0);
          x += widths[i];
        });
        ctx.restore();
      }

      if (p.legend) {
        const colors = [C_IFLD, C_BSF, '#000'];
        const lw = [2.6, 2.6, 1.3];
        const rows = [174, 200, 225];
        ctx.fillStyle = '#fff';
        ctx.fillRect(156, 159, 161, 81);
        ctx.strokeStyle = AXIS;
        ctx.lineWidth = 1;
        ctx.strokeRect(156.5, 159.5, 161, 81);
        ctx.font = '19px ' + FONT;
        ctx.textAlign = 'left';
        ctx.textBaseline = 'middle';
        legendLabels.forEach((lab, i) => {
          ctx.strokeStyle = colors[i];
          ctx.lineWidth = lw[i];
          ctx.beginPath();
          ctx.moveTo(163, rows[i]); ctx.lineTo(235, rows[i]);
          ctx.stroke();
          ctx.fillStyle = '#000';
          ctx.fillText(lab, 241, rows[i] + 1);
        });
      }
      ctx.restore();
    }
  };
}

function drawPanel(p) {
  const canvas = document.createElement('canvas');
  canvas.width = 400;
  canvas.height = p.h;
  canvas.style.left = p.left + 'px';
  canvas.style.top = p.top + 'px';
  document.getElementById('fig').appendChild(canvas);

  const [aL, aT, aR, aB] = p.area;
  const isA = p.kind === 'a';
  const tickFont = { family: FONT, size: 21 };

  new Chart(canvas.getContext('2d'), {
    type: 'scatter',
    data: { datasets: p.sets },
    plugins: [makeDecor(p)],
    options: {
      responsive: false,
      animation: false,
      devicePixelRatio: 1,
      events: [],
      layout: { padding: { left: 0, top: aT, right: 400 - aR, bottom: 0 } },
      plugins: { legend: { display: false }, tooltip: { enabled: false } },
      scales: {
        x: {
          type: 'linear',
          position: 'bottom',
          min: 6,
          max: 18,
          afterBuildTicks: s => { s.ticks = xTicks.map(v => ({ value: v })); },
          afterFit: s => { s.height = p.h - aB; s.paddingLeft = 0; s.paddingRight = 0; },
          grid: { display: false, drawTicks: false },
          border: { display: true, color: AXIS, width: 1 },
          ticks: { padding: 12, color: AXIS, font: tickFont, maxRotation: 0, autoSkip: false, callback: v => String(v) },
          title: p.hour
            ? { display: true, text: 'hour', color: AXIS, font: { family: FONT, size: 23, lineHeight: 1 }, padding: 0 }
            : { display: false }
        },
        y: {
          type: 'linear',
          position: 'left',
          min: isA ? 0.96 : -1,
          max: isA ? 1.05 : 1.1,
          afterBuildTicks: s => { s.ticks = (isA ? aTicks : fTicks).map(v => ({ value: v })); },
          afterFit: s => { s.width = aL; s.paddingTop = 0; s.paddingBottom = 0; },
          grid: { display: false, drawTicks: false },
          border: { display: true, color: AXIS, width: 1 },
          ticks: { padding: 9, color: AXIS, font: tickFont, autoSkip: false, callback: v => String(v) }
        }
      }
    }
  });
}

panels.forEach(drawPanel);
</script>
</body>
</html>
